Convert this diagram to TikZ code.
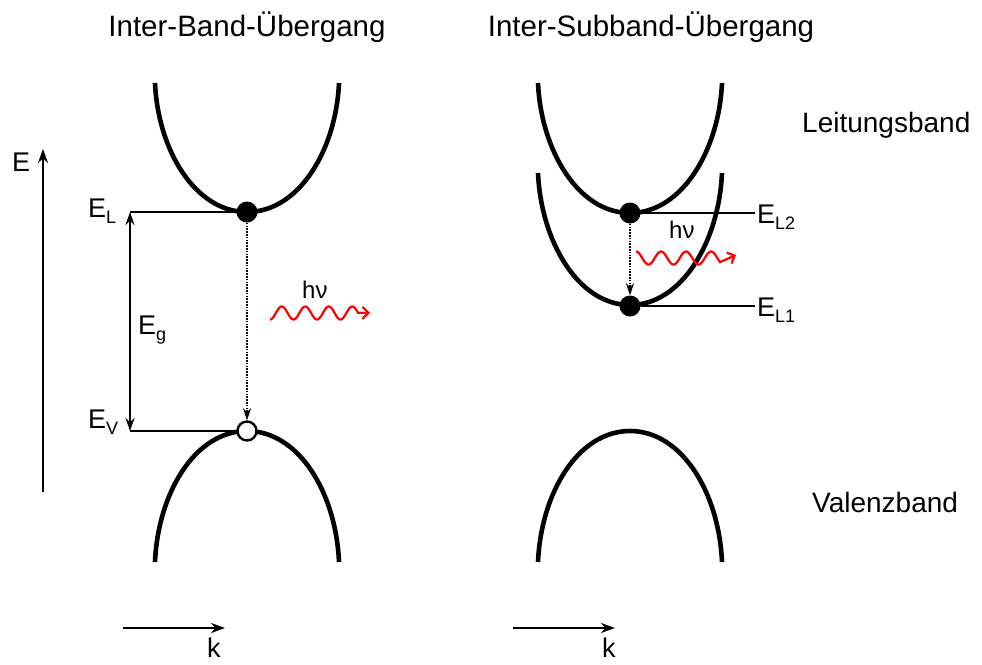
\documentclass[tikz,border=0pt]{standalone}
\usepackage{fontspec}
\setmainfont{Liberation Sans}
\usetikzlibrary{arrows.meta}
\newcommand\mysub[1]{\raisebox{-6.5pt}{\fontsize{18}{18}\selectfont #1}}
\begin{document}
\begin{tikzpicture}[x=1pt,y=-1pt,
  band/.style={line width=4.6pt},
  lvl/.style={line width=2pt},
  axisarrow/.style={line width=2.2pt,-{Stealth[length=14pt,width=10pt]}},
  gaparrow/.style={line width=2pt,{Stealth[length=13pt,width=9pt]}-{Stealth[length=13pt,width=9pt]}},
  transit/.style={line width=2.2pt,dash pattern=on 1.6pt off 1.2pt,-{Stealth[length=12pt,width=8pt]}},
  electron/.style={circle,fill=black,minimum size=21pt,inner sep=0pt},
  hole/.style={circle,draw=black,fill=white,line width=2.4pt,minimum size=19pt,inner sep=0pt},
  photon/.style={red,line width=2.2pt,-{Straight Barb[length=6pt,width=12pt]}},
  title/.style={font=\fontsize{29.5}{34}\selectfont,anchor=base,inner sep=0pt},
  bandlabel/.style={font=\fontsize{28}{32}\selectfont,anchor=base west,inner sep=0pt},
  elabel/.style={font=\fontsize{27}{30}\selectfont,anchor=base west,inner sep=0pt},
  hnu/.style={font=\fontsize{24}{26}\selectfont,anchor=base west,inner sep=0pt}
]
\useasboundingbox (0,0) rectangle (982,664);

% titles
\node[title] (t1) at (247,36) {Inter-Band-Übergang};
\node[title] (t2) at (651,36) {Inter-Subband-Übergang};
\node[bandlabel] (lb) at (802,132) {Leitungsband};
\node[bandlabel] (vb) at (812,512) {Valenzband};

% energy axis
\coordinate (Ebot) at (43,492);
\coordinate (Etop) at (43,149);
\draw[axisarrow] (Ebot) -- (Etop);
\node[elabel] (E) at (12,171) {E};

% k axes
\coordinate (k1s) at (123,628);
\coordinate (k1e) at (225,628);
\coordinate (k2s) at (513,628);
\coordinate (k2e) at (615,628);
\draw[axisarrow] (k1s) -- (k1e);
\draw[axisarrow] (k2s) -- (k2e);
\node[elabel] (k1) at (207,657) {k};
\node[elabel] (k2) at (602,657) {k};

% left bands
\draw[band] (155,83) .. controls (158,150) and (195,212) .. (247,212)
                     .. controls (299,212) and (336,150) .. (339,83);
\draw[band] (155,562) .. controls (158,493) and (195,431) .. (247,431)
                      .. controls (299,431) and (336,493) .. (339,562);
\node[electron] (eL) at (247,212) {};
\node[hole] (hV) at (247,431) {};
\coordinate (ELend) at (130,212);
\coordinate (EVend) at (130,431);
\draw[lvl] (ELend) -- (eL);
\draw[lvl] (EVend) -- (hV);
\draw[gaparrow] (EVend) -- (ELend);
\node[elabel] (ELlab) at (88,217) {E\mysub{L}};
\node[elabel] (EVlab) at (88,428) {E\mysub{V}};
\node[elabel] (Eglab) at (138,334) {E\mysub{g}};
\draw[transit] (eL) -- (hV);
\draw[photon] plot[domain=0:88,samples=150,smooth] ({270+\x},{313+6.5*cos((\x/23.5)*360)}) -- (370,313);
\node[hnu] (hnu1) at (302,298) {hν};

% right bands
\draw[band] (538,83) .. controls (541,150) and (578,213) .. (630,213)
                     .. controls (682,213) and (719,150) .. (722,83);
\draw[band] (538,173) .. controls (541,241) and (578,305) .. (630,305)
                      .. controls (682,305) and (719,241) .. (722,173);
\draw[band] (538,562) .. controls (541,493) and (578,431) .. (630,431)
                      .. controls (682,431) and (719,493) .. (722,562);
\node[electron] (eL2) at (630,213) {};
\node[electron] (eL1) at (630,306) {};
\coordinate (EL2end) at (755,213);
\coordinate (EL1end) at (755,306);
\draw[lvl] (eL2) -- (EL2end);
\draw[lvl] (eL1) -- (EL1end);
\node[elabel] (EL2lab) at (757,223) {E\mysub{L2}};
\node[elabel] (EL1lab) at (757,316) {E\mysub{L1}};
\draw[transit] (eL2) -- (eL1);
\draw[photon] plot[domain=0:84,samples=150,smooth] ({636+\x},{258-6.5*cos((\x/25)*360)}) -- (736,255);
\node[hnu] (hnu2) at (669,238) {hν};
\end{tikzpicture}
\end{document}
